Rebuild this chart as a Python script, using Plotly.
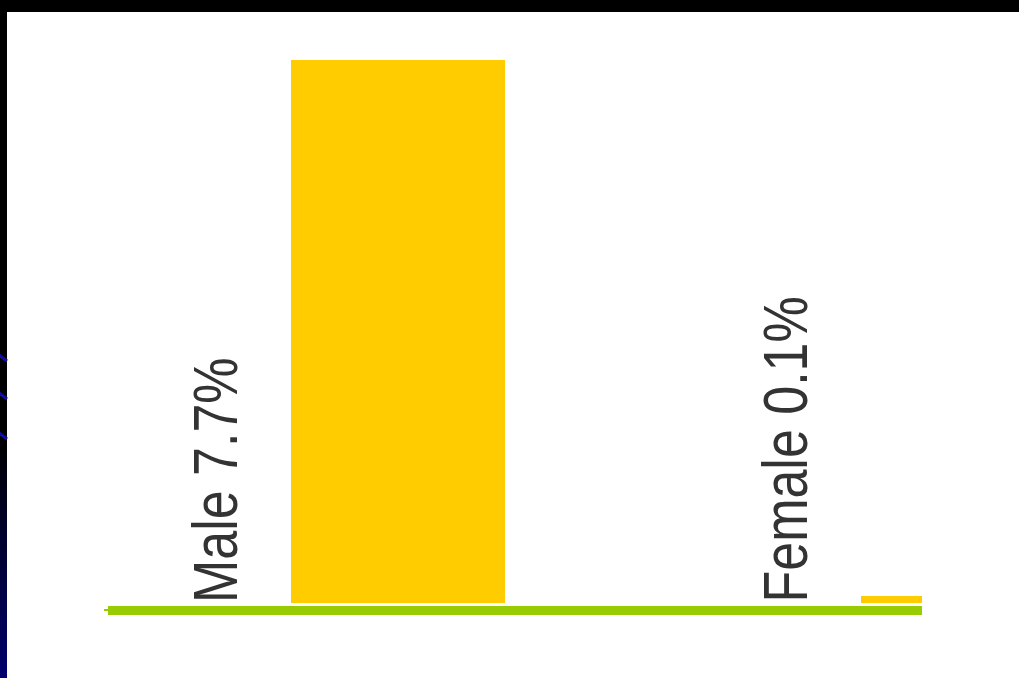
import plotly.graph_objects as go

# Data
categories = ["Male", "Female"]
values = [7.7, 0.1]
labels = ["Male 7.7%", "Female 0.1%"]

W, H = 1019, 678
M_L, M_R, M_T, M_B = 108, 97, 60, 75
PLOT_W = W - M_L - M_R
PLOT_H = H - M_T - M_B

BAR_COLOR = "#FFCC00"
BASE_COLOR = "#99CC00"
TEXT_COLOR = "#333333"

# category spacing and bar geometry in axis units
positions = list(range(len(categories)))
px_per_unit = 570.0
bar_center_px = 398.0
x_lo = (M_L - bar_center_px) / px_per_unit
x_hi = (W - M_R - bar_center_px) / px_per_unit
bar_width = 214.0 / px_per_unit
label_offset = -183.0 / px_per_unit


def px_x(p):
    return (p - M_L) / PLOT_W


def px_y(p):
    return (M_T + PLOT_H - p) / PLOT_H


fig = go.Figure()
fig.add_trace(go.Bar(
    x=positions, y=values, width=bar_width,
    marker=dict(color=BAR_COLOR, line=dict(width=0)),
    hoverinfo="skip",
))

shapes = []
# dark slide frame: top band and left strip
shapes.append(dict(type="rect", xref="paper", yref="paper",
                   x0=px_x(0), x1=px_x(W), y0=px_y(0), y1=px_y(12),
                   fillcolor="black", line=dict(width=0), layer="above"))
shapes.append(dict(type="rect", xref="paper", yref="paper",
                   x0=px_x(0), x1=px_x(7), y0=px_y(0), y1=px_y(H),
                   fillcolor="black", line=dict(width=0), layer="above"))
# gradient toward navy at the bottom of the strip
steps = 24
g_top, g_bot = 440, H
for i in range(steps):
    t = (i + 0.5) / steps
    b = int(round(110 * t))
    y0 = g_top + (g_bot - g_top) * i / steps
    y1 = g_top + (g_bot - g_top) * (i + 1) / steps
    shapes.append(dict(type="rect", xref="paper", yref="paper",
                       x0=px_x(0), x1=px_x(7), y0=px_y(y0), y1=px_y(y1 + 0.5),
                       fillcolor=f"rgb(0,0,{b})", line=dict(width=0), layer="above"))
# diagonal accents on the strip
for yy in [355, 393, 433]:
    shapes.append(dict(type="line", xref="paper", yref="paper",
                       x0=px_x(-1), x1=px_x(7), y0=px_y(yy), y1=px_y(yy + 6),
                       line=dict(color="#1010a0", width=3), layer="above"))
# baseline
shapes.append(dict(type="rect", xref="paper", yref="paper",
                   x0=px_x(108), x1=px_x(922), y0=px_y(615), y1=px_y(606),
                   fillcolor=BASE_COLOR, line=dict(width=0), layer="above"))
shapes.append(dict(type="rect", xref="paper", yref="paper",
                   x0=px_x(104), x1=px_x(108), y0=px_y(611), y1=px_y(609),
                   fillcolor=BASE_COLOR, line=dict(width=0), layer="above"))

annotations = []
for p, lab in zip(positions, labels):
    annotations.append(dict(
        x=p + label_offset, y=0, xref="x", yref="y",
        text=lab, textangle=-90, showarrow=False,
        xanchor="center", yanchor="bottom", yshift=-2,
        font=dict(family="Liberation Sans, Arial, sans-serif",
                  size=63, color=TEXT_COLOR),
    ))

fig.update_layout(
    width=W, height=H,
    margin=dict(l=M_L, r=M_R, t=M_T, b=M_B, pad=0),
    paper_bgcolor="white", plot_bgcolor="white",
    showlegend=False,
    bargap=0,
    xaxis=dict(range=[x_lo, x_hi], visible=False, fixedrange=True),
    yaxis=dict(range=[0, 7.7], visible=False, fixedrange=True),
    shapes=shapes,
    annotations=annotations,
)

# condense the label lettering along the reading direction
condense_js = """
(function(){
  var gd = document.getElementById('{plot_id}');
  function condense(){
    gd.querySelectorAll('.annotation-text').forEach(function(t){
      t.style.transformBox = 'fill-box';
      t.style.transformOrigin = '0% 50%';
      t.style.transform = 'scaleX(0.825)';
    });
  }
  condense();
  if (gd.on) { gd.on('plotly_afterplot', condense); }
})();
"""

fig.write_html("out.html", config={"displayModeBar": False}, post_script=condense_js)
